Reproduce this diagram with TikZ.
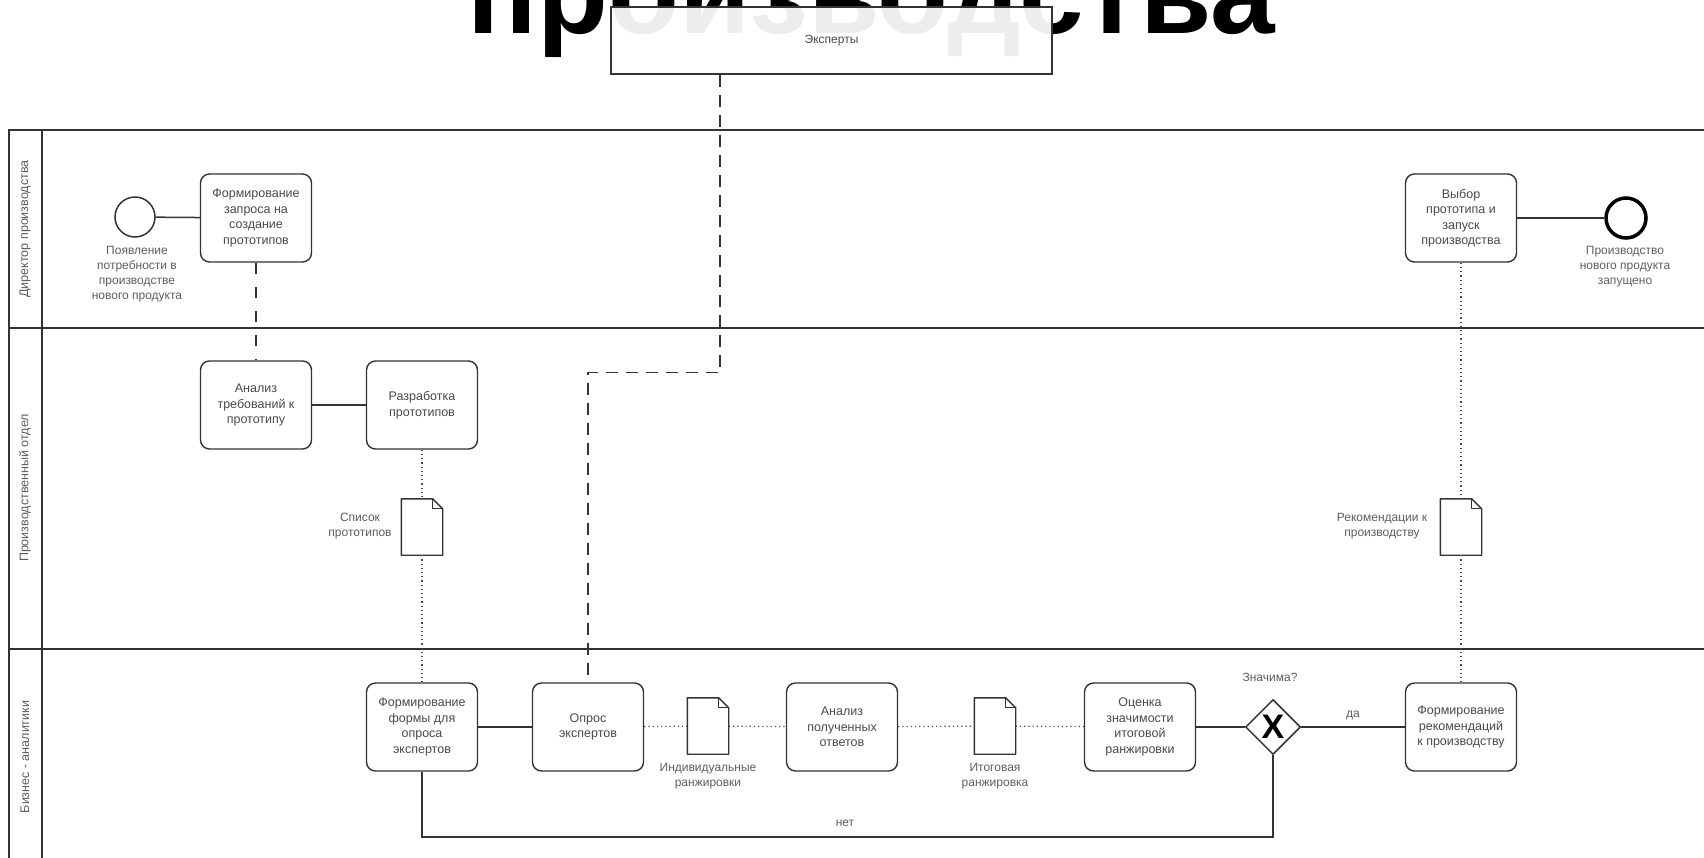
\documentclass[tikz,border=0pt]{standalone}
\usepackage{fontspec}
\setmainfont{Liberation Sans}
\usetikzlibrary{shapes.geometric}
\definecolor{linecol}{HTML}{333333}
\definecolor{txtcol}{HTML}{4A4A4A}
\definecolor{lblcol}{HTML}{5E5E5E}
\newcommand\tasksz{\fontsize{12.5}{15.5}\selectfont}
\newcommand\lblsz{\fontsize{12}{15}\selectfont}
\tikzset{
  task/.style={draw=linecol, line width=1.4pt, rounded corners=9pt, minimum width=111pt, minimum height=88pt,
    align=center, font=\tasksz, text=txtcol, inner sep=2pt},
  docbox/.style={minimum width=41pt, minimum height=56pt, inner sep=0pt},
  docline/.style={draw=linecol, line width=1.4pt, line join=round},
  lbl/.style={align=center, font=\lblsz, text=lblcol, inner sep=0pt},
  lanelbl/.style={rotate=90, font=\fontsize{12.5}{15}\selectfont, text=lblcol, inner sep=0pt},
  poolline/.style={draw=linecol, line width=1.8pt},
  flow/.style={draw=linecol, line width=1.5pt},
  assoc/.style={draw=black!70, line width=1.2pt, dash pattern=on 1.2pt off 3pt},
  dashline/.style={draw=linecol, line width=1.6pt, dash pattern=on 12pt off 8pt},
}
\begin{document}
\begin{tikzpicture}[x=1pt,y=-1pt]
\useasboundingbox (0,0) rectangle (1704,857);
\clip (0,0) rectangle (1704,857);
\fill[white] (0,0) rectangle (1704,857);

% title (partly hidden)
\node[anchor=base, font=\fontsize{116}{120}\selectfont\bfseries, inner sep=0pt] (title) at (871,33) {производства};

% experts pool
\node[draw=linecol, line width=1.2pt, fill=white, fill opacity=0.93, text opacity=1,
      minimum width=441pt, minimum height=67pt, inner sep=0pt, font=\lblsz, text=txtcol] (experts) at (831.5,40.5) {Эксперты};

% main pool lines
\draw[poolline] (1704,130) -- (9,130) -- (9,870);
\draw[poolline] (42,130) -- (42,870);
\draw[poolline] (9,328) -- (1704,328);
\draw[poolline] (9,649) -- (1704,649);

% lane labels
\node[lanelbl] (lane1) at (25,229) {Директор производства};
\node[lanelbl] (lane2) at (25,488) {Производственный отдел};
\node[lanelbl] (lane3) at (25,757) {Бизнес - аналитики};

% events
\node[circle, draw=linecol, line width=1.5pt, minimum size=40pt, inner sep=0pt] (start) at (135,217) {};
\node[circle, draw=black, line width=3.5pt, minimum size=40pt, inner sep=0pt] (end) at (1626,218) {};
\node[lbl] (startlbl) at (137,274) {Появление\\потребности в\\производстве\\нового продукта};
\node[lbl] (endlbl) at (1625,267) {Производство\\нового продукта\\запущено};

% tasks
\node[task] (treq) at (256,218) {Формирование\\запроса на\\создание\\прототипов};
\node[task] (tchoice) at (1461,218) {Выбор\\прототипа и\\запуск\\производства};
\node[task] (tanal) at (256,405) {Анализ\\требований к\\прототипу};
\node[task] (tdev) at (422,405) {Разработка\\прототипов};
\node[task] (tform) at (422,727) {Формирование\\формы для\\опроса\\экспертов};
\node[task] (tpoll) at (588,727) {Опрос\\экспертов};
\node[task] (tans) at (842,727) {Анализ\\полученных\\ответов};
\node[task] (teval) at (1140,727) {Оценка\\значимости\\итоговой\\ранжировки};
\node[task] (trec) at (1461,727) {Формирование\\рекомендаций\\к производству};

% gateway
\node[diamond, draw=linecol, line width=1.5pt, minimum width=55pt, minimum height=55pt, inner sep=0pt, fill=white] (gw) at (1273,727) {};
\node[font=\fontsize{34}{34}\selectfont\bfseries, inner sep=0pt] (gwx) at (1273,727) {X};
\node[lbl] (gwlbl) at (1270,677) {Значима?};

% documents
\node[docbox] (dlist) at (422,527) {};
\node[docbox] (drec) at (1461,527) {};
\node[docbox] (dind) at (708,726) {};
\node[docbox] (dtot) at (995,726) {};
\foreach \d in {dlist,drec,dind,dtot}{
  \draw[docline, fill=white] (\d.south west) -- (\d.north west) -- ([xshift=-10pt]\d.north east)
     -- ([yshift=-10pt]\d.north east) -- (\d.south east) -- cycle;
  \draw[docline, line width=1pt] ([xshift=-10pt]\d.north east) -- ([xshift=-10pt,yshift=-10pt]\d.north east)
     -- ([yshift=-10pt]\d.north east);
}
\node[lbl] (llist) at (360,526) {Список\\прототипов};
\node[lbl] (lrec) at (1382,526) {Рекомендации к\\производству};
\node[lbl] (lind) at (708,776) {Индивидуальные\\ранжировки};
\node[lbl] (ltot) at (995,776) {Итоговая\\ранжировка};

% sequence flows
\draw[flow] (start) -- (treq);
\draw[flow] (tchoice) -- (end);
\draw[flow] (tanal) -- (tdev);
\draw[flow] (tform) -- (tpoll);
\draw[flow] (teval) -- (gw);
\draw[flow] (gw) -- node[lbl, above=6pt] (yes) {да} (trec);
\coordinate (nobot) at (845,837);
\draw[flow] (tform.south) |- (nobot) -| (gw.south);
\node[lbl] (no) at (845,823) {нет};

% message / dashed flows
\draw[dashline, dash pattern=on 11pt off 13pt] (treq.south) -- (tanal.north);
\draw[dashline] ([xshift=-111.5pt]experts.south) -- ++(0,298) -| (tpoll.north);

% associations (dotted)
\draw[assoc] (tdev) -- (dlist);
\draw[assoc] (dlist) -- (tform);
\draw[assoc] (tchoice) -- (drec);
\draw[assoc] (drec) -- (trec);
\draw[assoc] (tpoll) -- (dind);
\draw[assoc] (dind) -- (tans);
\draw[assoc] (tans) -- (dtot);
\draw[assoc] (dtot) -- (teval);
\end{tikzpicture}
\end{document}
